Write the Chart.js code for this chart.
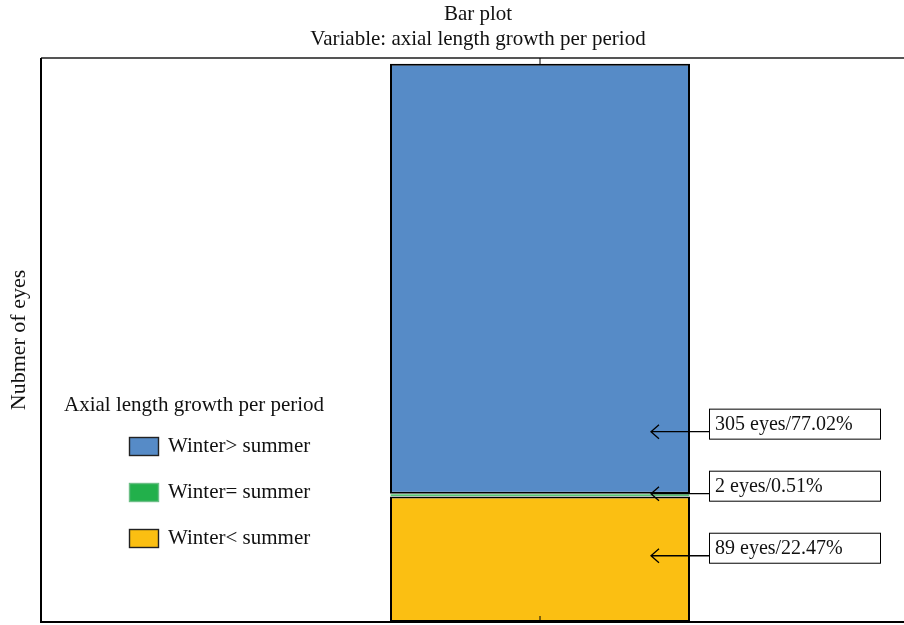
<!DOCTYPE html>
<html>
<head>
<meta charset="utf-8">
<script src="https://cdn.jsdelivr.net/npm/chart.js@4.4.1/dist/chart.umd.min.js"></script>
<style>
  html, body { margin: 0; padding: 0; background: #fff; overflow: hidden; }
  #wrap { width: 1045px; height: 625px; }
</style>
</head>
<body>
<div id="wrap"><canvas id="chart" width="1045" height="625"></canvas></div>
<script>
// data
const categories = ['Axial length growth per period'];
const seriesLabels = ['Winter< summer', 'Winter= summer', 'Winter> summer'];
const seriesValues = [[89], [2], [305]];
const seriesColors = ['#fbbf12', '#22b04b', '#568bc7'];
const seriesBorders = ['#000000', '#d8efdf', '#000000'];
const noteTexts = ['89 eyes/22.47%', '2 eyes/0.51%', '305 eyes/77.02%'];
const noteAt = [47, 91, 135];      // value where each arrow points

const FONT = '"Liberation Serif", "DejaVu Serif", serif';

const decor = {
    id: 'decor',
    afterDraw(chart) {
        const { ctx, chartArea: a, scales } = chart;
        const x = scales.x, y = scales.y;
        ctx.save();

        // titles
        ctx.fillStyle = '#111';
        ctx.font = '21px ' + FONT;
        ctx.textAlign = 'center';
        ctx.textBaseline = 'middle';
        ctx.fillText('Bar plot', 478, 14);
        ctx.fillText('Variable: axial length growth per period', 478, 39);

        // frame
        ctx.lineWidth = 2;
        ctx.strokeStyle = '#555';
        ctx.beginPath(); ctx.moveTo(a.left, a.top); ctx.lineTo(a.right, a.top); ctx.stroke();
        ctx.strokeStyle = '#000';
        ctx.beginPath(); ctx.moveTo(a.left, a.top); ctx.lineTo(a.left, a.bottom); ctx.lineTo(a.right, a.bottom); ctx.stroke();

        // inward ticks
        const cx = x.getPixelForValue(0);
        ctx.lineWidth = 1;
        ctx.beginPath();
        ctx.moveTo(cx, a.top); ctx.lineTo(cx, a.top + 6);
        ctx.moveTo(cx, a.bottom); ctx.lineTo(cx, a.bottom - 6);
        ctx.stroke();

        // annotations
        const bar = chart.getDatasetMeta(2).data[0];
        const barRight = bar.x + bar.width / 2;
        ctx.font = '20px ' + FONT;
        ctx.textAlign = 'left';
        noteTexts.forEach((t, i) => {
            const py = y.getPixelForValue(noteAt[i]);
            const tip = barRight - 39;
            const bx = barRight + 19;
            const bw = 171, bh = 30;
            const by = py - 23;
            ctx.strokeStyle = '#000';
            ctx.lineWidth = 1.3;
            ctx.beginPath();
            ctx.moveTo(bx, py); ctx.lineTo(tip, py);
            ctx.moveTo(tip + 8, py - 7); ctx.lineTo(tip, py); ctx.lineTo(tip + 8, py + 7);
            ctx.stroke();
            ctx.lineWidth = 1;
            ctx.fillStyle = '#fff';
            ctx.fillRect(bx, by, bw, bh);
            ctx.strokeRect(bx + 0.5, by + 0.5, bw, bh);
            ctx.fillStyle = '#111';
            ctx.textBaseline = 'middle';
            ctx.fillText(t, bx + 6, by + bh / 2 + 1);
        });

        // legend
        ctx.font = '21px ' + FONT;
        ctx.fillStyle = '#111';
        ctx.fillText('Axial length growth per period', 64, 405);
        for (let k = 0; k < 3; k++) {
            const i = 2 - k;
            const ly = 446 + k * 46;
            ctx.fillStyle = seriesColors[i];
            ctx.fillRect(129, ly - 9, 29, 18);
            ctx.strokeStyle = i === 1 ? '#6cbf86' : '#222';
            ctx.lineWidth = 1.4;
            ctx.strokeRect(129.5, ly - 8.5, 29, 18);
            ctx.fillStyle = '#111';
            ctx.fillText(seriesLabels[i], 168, ly);
        }
        ctx.restore();
    }
};

new Chart(document.getElementById('chart'), {
    type: 'bar',
    data: {
        labels: categories,
        datasets: seriesLabels.map((label, i) => ({
            label,
            data: seriesValues[i],
            backgroundColor: seriesColors[i],
            borderColor: seriesBorders[i],
            borderWidth: i === 1 ? 0.8 : 2,
            borderSkipped: false,
            categoryPercentage: 1,
            barPercentage: 0.3006,
        })),
    },
    options: {
        responsive: false,
        animation: false,
        layout: { padding: { top: 58, bottom: 3, right: 6, left: 0 } },
        plugins: { legend: { display: false }, tooltip: { enabled: false }, title: { display: false } },
        scales: {
            x: {
                stacked: true,
                ticks: { display: false },
                grid: { display: false },
                border: { display: false },
                afterFit: (s) => { s.height = 0; },
            },
            y: {
                stacked: true,
                min: 0,
                max: 400,
                ticks: { display: false },
                grid: { display: false },
                border: { display: false },
                title: {
                    display: true,
                    text: 'Nubmer of eyes',
                    color: '#111',
                    font: { family: FONT, size: 22 },
                    padding: { top: 6, bottom: 10 },
                },
                afterFit: (s) => { s.width = 41; },
            },
        },
    },
    plugins: [decor],
});
</script>
</body>
</html>
